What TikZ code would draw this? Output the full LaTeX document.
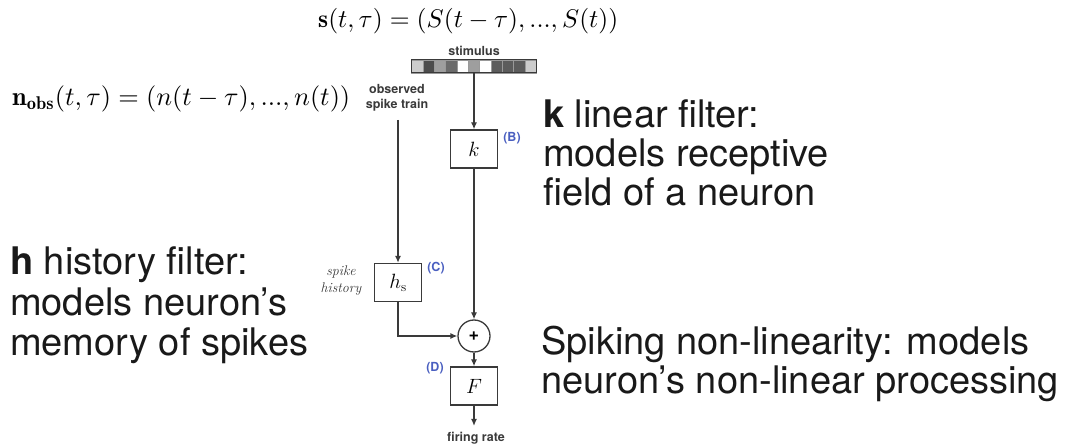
\documentclass[tikz,border=0pt]{standalone}
\usepackage{fontspec}
\usepackage{graphicx}
\newfontfamily\hel{TeX Gyre Heros}
\usetikzlibrary{arrows.meta}
\definecolor{ln}{HTML}{3A3A3A}
\definecolor{lbl}{HTML}{4A5FC0}
\begin{document}
\begin{tikzpicture}[x=1bp,y=-1bp,
 big/.style={font=\hel\fontsize{38bp}{40bp}\selectfont, anchor=base west, inner sep=0, text=black!90},
 small/.style={font=\hel\bfseries\fontsize{12.5bp}{14.5bp}\selectfont, inner sep=0, text=ln},
 box/.style={draw=ln, line width=1.3bp, minimum width=47bp, minimum height=38bp, inner sep=0, font=\fontsize{19bp}{19bp}\selectfont},
 tag/.style={font=\hel\bfseries\fontsize{12.5bp}{13bp}\selectfont, text=lbl, inner sep=0},
 conn/.style={draw=ln, line width=1.3bp, -{Latex[length=7bp,width=6bp]}}
]
\useasboundingbox (0,0) rectangle (1072,447);
% formulas
\node[anchor=base west, inner sep=0] (sform) at (318,28) {\resizebox{300bp}{!}{$\mathbf{s}(t,\tau)=(S(t-\tau),...,S(t))$}};
\node[anchor=base west, inner sep=0] (nform) at (12,106) {\resizebox{338bp}{!}{$\mathbf{n}_{\mathbf{obs}}(t,\tau)=(n(t-\tau),...,n(t))$}};
% stimulus bar
\node[small] (stimlbl) at (474,51) {stimulus};
\foreach \c [count=\i] in {80,30,62,42,100,62,100,36,36,36,80}
  \filldraw[fill=white!\c!black, draw=gray!80, line width=0.6bp] ({411.5+(\i-1)*125/11},60) rectangle ({411.5+\i*125/11},73);
\node[draw=ln, line width=1bp, minimum width=125bp, minimum height=13bp, inner sep=0] (stim) at (474,66.5) {};
% blocks
\node[box] (k) at (474,149) {$k$};
\node[tag] (B) at (512,138) {(B)};
\node[box] (h) at (398,282.5) {$h_{\mathrm{s}}$};
\node[tag] (C) at (436,268) {(C)};
\node[circle, draw=ln, line width=1.3bp, minimum size=32bp, inner sep=0, font=\hel\bfseries\fontsize{18bp}{18bp}\selectfont] (sum) at (474,336) {+};
\node[box] (F) at (474,386) {$F$};
\node[tag] (D) at (435,368) {(D)};
\node[small, align=center] (obs) at (397,98) {observed\\spike train};
\coordinate (obsend) at (398,120);
\node[small] (fr) at (476,438) {firing rate};
\coordinate (frtop) at (474,426);
\node[font=\itshape\fontsize{14bp}{17bp}\selectfont, text=black!78, align=center, inner sep=0] (sh) at (341,281) {spike\\history};
% connectors
\draw[conn] (stim.south) -- (k.north);
\draw[conn] (obsend) -- (h.north);
\draw[conn] (k.south) -- (sum.north);
\draw[conn] (h.south) |- (sum.west);
\draw[conn] (sum.south) -- (F.north);
\draw[conn] (F.south) -- (frtop);
% explanations
\node[big] (k1) at (543,128) {\textbf{k} linear filter:};
\node[big] (k2) at (543,167) {models receptive};
\node[big] (k3) at (543,206) {field of a neuron};
\node[big] (h1) at (10,275) {\textbf{h} history filter:};
\node[big] (h2) at (10,316) {models neuron’s};
\node[big] (h3) at (10,356) {memory of spikes};
\node[big] (s1) at (541,355) {Spiking non-linearity: models};
\node[big] (s2) at (541,394) {neuron’s non-linear processing};
\end{tikzpicture}
\end{document}
